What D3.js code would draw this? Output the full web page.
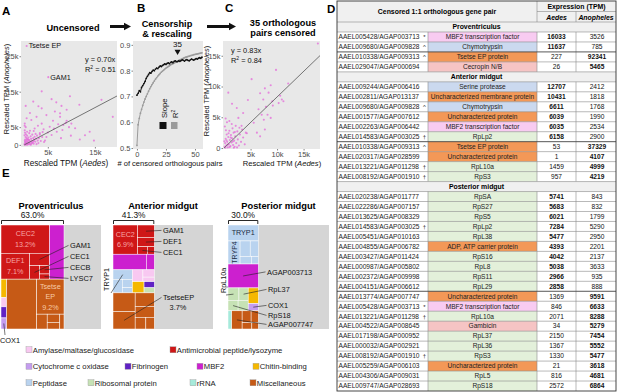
<!DOCTYPE html>
<html>
<head>
<meta charset="utf-8">
<script src="https://cdn.jsdelivr.net/npm/d3@7/dist/d3.min.js"></script>
<style>
  body { margin: 0; background: #fff; }
  svg { font-family: 'Liberation Sans', Arial, sans-serif; display: block; }
</style>
</head>
<body>
<svg id="fig" width="617" height="392"></svg>
<script>
// ---------- data ----------
// A / C: rescaled TPM in thousands, [Aedes, Anopheles]
const pointsA = [
  [0.5, 27.9], [5.1, 19.1],
  [3.7, 15.1], [5.8, 12.9], [1.9, 12.2], [9.7, 13.7], [16.4, 12.7], [11.7, 11.3], [7.9, 11.0],
  [3.7, 10.3], [6.5, 9.4], [9.0, 9.9], [4.7, 8.4], [7.6, 7.9], [2.6, 7.9], [1.5, 7.0], [6.1, 6.8],
  [9.0, 6.8], [10.0, 6.0], [8.3, 5.6], [3.7, 6.0], [5.4, 5.1], [0.5, 7.5], [13.9, 3.7], [12.9, 2.7],
  [11.8, 1.5], [3.3, 3.3], [4.7, 2.2], [6.9, 3.7], [2.2, 4.6], [0.1, 6.0], [18.8, 7.9], [7.6, 8.9],
  [8.8, 6.2], [7.2, 5.8], [9.5, 5.0], [6.3, 4.6], [4.1, 4.4], [5.0, 3.5], [8.1, 4.2], [10.8, 4.7],
  [2.9, 5.4], [1.2, 9.0], [0.3, 11.0], [2.0, 3.9], [5.8, 2.8], [7.8, 1.9], [4.4, 1.2], [9.9, 2.6],
  [14.8, 1.2], [3.0, 10.9], [6.8, 12.0],
  [0.05, 0.1], [0.1, 0.4], [0.15, 0.9], [0.2, 1.5], [0.25, 2.2], [0.3, 0.2], [0.35, 3.0], [0.4, 0.7],
  [0.45, 1.2], [0.5, 1.9], [0.55, 0.05], [0.6, 2.6], [0.65, 0.45], [0.7, 1.0], [0.8, 1.6], [0.85, 0.25],
  [0.9, 2.1], [1.0, 0.6], [1.05, 3.3], [1.1, 1.3], [1.2, 0.15], [1.3, 0.9], [1.35, 2.4], [1.45, 1.7],
  [1.55, 0.4], [1.6, 1.1], [1.7, 2.9], [1.8, 0.7], [1.9, 1.9], [2.0, 0.3], [2.1, 1.4], [2.2, 2.3],
  [2.35, 0.9], [2.5, 1.7], [2.6, 0.2], [2.7, 2.6], [2.85, 1.2], [3.0, 0.5], [3.1, 1.9], [3.3, 2.9],
  [3.5, 1.1], [0.1, 4.1], [0.3, 5.0], [0.6, 3.7], [1.2, 4.0], [0.05, 2.7], [0.2, 0.05], [0.4, 0.3],
  [0.75, 0.1], [0.95, 1.4], [1.15, 0.5], [1.4, 0.05], [1.65, 0.6], [0.12, 1.2], [0.28, 0.6],
  [0.58, 1.55], [0.88, 0.75], [2.0, 1.0], [2.4, 3.1], [3.8, 2.2], [4.2, 0.8], [3.9, 3.6], [0.08, 5.4],
  [0.15, 3.4]
];
const labelsA = ['Tsetse EP', 'GAM1']; // first points of pointsA
const slopeA = 0.70, r2A = 0.51;

const pointsC = [
  [17.7, 17.0], [9.8, 12.7], [8.8, 10.2], [7.7, 9.7], [6.8, 8.9], [8.4, 9.0], [10.6, 8.5], [10.9, 7.9],
  [11.2, 7.6], [10.3, 7.3], [9.1, 7.6], [7.4, 7.9], [7.9, 6.7], [9.2, 6.9], [6.5, 6.3], [7.1, 5.4],
  [8.2, 5.4], [8.8, 4.9], [7.5, 4.6], [7.7, 3.0], [6.8, 1.9], [6.2, 2.5], [2.4, 6.5], [2.7, 4.9],
  [3.6, 5.7], [3.3, 3.6], [4.3, 2.4], [0.8, 9.0], [5.2, 11.2], [4.5, 7.8], [12.1, 10.5], [5.6, 4.1],
  [1.5, 7.2],
  [0.1, 0.2], [0.2, 0.8], [0.3, 1.5], [0.4, 0.4], [0.5, 2.2], [0.6, 1.0], [0.7, 0.1], [0.8, 1.8],
  [0.9, 0.6], [1.0, 2.8], [1.1, 1.3], [1.2, 0.3], [1.3, 2.1], [1.4, 0.9], [1.5, 1.6], [1.6, 3.2],
  [1.7, 0.5], [1.8, 2.5], [1.9, 1.2], [2.0, 0.2], [2.1, 1.9], [2.2, 3.6], [2.3, 0.8], [2.5, 2.7],
  [2.6, 1.4], [2.8, 0.4], [3.0, 2.2], [3.2, 1.0], [3.4, 3.0], [3.6, 1.7], [0.15, 3.5], [0.35, 2.9],
  [0.55, 4.2], [0.05, 1.1], [0.25, 0.05], [0.45, 1.25], [0.65, 0.55], [0.85, 2.4], [1.05, 0.15],
  [1.25, 1.7], [1.45, 3.9], [1.65, 1.05], [1.85, 0.05], [2.05, 2.6], [2.45, 0.1], [2.9, 3.3],
  [3.9, 0.6], [4.1, 2.5], [0.3, 4.8], [1.0, 4.4]
];
const slopeC = 0.83, r2C = 0.84;

// B: fit vs number of censored pairs (index = # pairs)
const slopeB = [0.705, 0.712, 0.722, 0.718, 0.735, 0.742, 0.75, 0.758, 0.77, 0.778, 0.785, 0.792,
  0.79, 0.797, 0.802, 0.80, 0.806, 0.81, 0.808, 0.814, 0.818, 0.816, 0.82, 0.823, 0.826, 0.824,
  0.828, 0.83, 0.827, 0.832, 0.834, 0.831, 0.836, 0.838, 0.835, 0.835, 0.838, 0.836, 0.839, 0.842,
  0.84, 0.837, 0.841, 0.843, 0.84, 0.838, 0.842, 0.845, 0.843, 0.841, 0.844, 0.847, 0.845, 0.848,
  0.85, 0.848, 0.852];
const r2B = [0.51, 0.59, 0.615, 0.635, 0.65, 0.665, 0.678, 0.69, 0.70, 0.71, 0.72, 0.73, 0.738,
  0.746, 0.753, 0.76, 0.767, 0.773, 0.779, 0.784, 0.789, 0.794, 0.798, 0.802, 0.806, 0.81, 0.813,
  0.816, 0.819, 0.822, 0.825, 0.827, 0.83, 0.832, 0.835, 0.837, 0.84, 0.842, 0.844, 0.846, 0.848,
  0.85, 0.852, 0.853, 0.855, 0.856, 0.858, 0.859, 0.86, 0.862, 0.863, 0.864, 0.865, 0.866, 0.867,
  0.868, 0.869];
const cutoffB = 35;

// D: table
const sections = ['Proventriculus', 'Anterior midgut', 'Posterior midgut'];
const sectionSizes = [4, 10, 20];
const pairIds = ['AAEL005428/AGAP003713', 'AAEL009680/AGAP009828', 'AAEL010338/AGAP009313', 'AAEL029047/AGAP000694',
  'AAEL009244/AGAP006416', 'AAEL002811/AGAP013137', 'AAEL009680/AGAP009828', 'AAEL001577/AGAP007612',
  'AAEL002263/AGAP006442', 'AAEL014583/AGAP003025', 'AAEL010338/AGAP009313', 'AAEL020317/AGAP028599',
  'AAEL013221/AGAP011298', 'AAEL008192/AGAP001910',
  'AAEL020238/AGAP011777', 'AAEL022286/AGAP007157', 'AAEL013625/AGAP008329', 'AAEL014583/AGAP003025',
  'AAEL005451/AGAP010163', 'AAEL004855/AGAP006782', 'AAEL003427/AGAP011424', 'AAEL000987/AGAP005802',
  'AAEL002372/AGAP009998', 'AAEL004151/AGAP006612', 'AAEL013774/AGAP007747', 'AAEL005428/AGAP003713',
  'AAEL013221/AGAP011298', 'AAEL004522/AGAP008645', 'AAEL017198/AGAP000952', 'AAEL000032/AGAP002921',
  'AAEL008192/AGAP001910', 'AAEL005259/AGAP006103', 'AAEL004306/AGAP009031', 'AAEL009747/AGAP028693'];
const pairMarks = ['*', '^', '^', '', '', '', '^', '', '', '†', '^', '', '†', '†',
  '', '', '', '†', '', '', '', '', '', '', '', '*', '†', '', '', '', '†', '', '', ''];
const proteins = ['MBF2 transcription factor', 'Chymotrypsin', 'Tsetse EP protein', 'Cecropin N/B',
  'Serine protease', 'Uncharacterized membrane protein', 'Chymotrypsin', 'Uncharacterized protein',
  'MBF2 transcription factor', 'RpLp2', 'Tsetse EP protein', 'Uncharacterized protein', 'RpL10a', 'RpS3',
  'RpSA', 'RpS27', 'RpS5', 'RpLp2', 'RpL38', 'ADP, ATP carrier protein', 'RpS16', 'RpL8', 'RpS11', 'RpL29',
  'Uncharacterized protein', 'MBF2 transcription factor', 'RpL10a', 'Gambicin', 'RpL37', 'RpL36', 'RpS3',
  'Uncharacterized protein', 'RpL5', 'RpS18'];
const proteinCats = ['MBF2', 'Pept', 'Misc', 'AMP', 'Pept', 'Misc', 'Pept', 'Misc', 'MBF2', 'Ribo', 'Misc',
  'Misc', 'Ribo', 'Ribo', 'Ribo', 'Ribo', 'Ribo', 'Ribo', 'Ribo', 'Misc', 'Ribo', 'Ribo', 'Ribo', 'Ribo',
  'Misc', 'MBF2', 'Ribo', 'AMP', 'Ribo', 'Ribo', 'Ribo', 'Misc', 'Ribo', 'Ribo'];
const aedesTPM = [16033, 11637, 227, 26, 12707, 10431, 6611, 6039, 6035, 6158, 53, 1, 1459, 957,
  5741, 5683, 6021, 7284, 5477, 4393, 4042, 5038, 2966, 2858, 1369, 846, 2071, 34, 2150, 1367, 1330, 21, 816, 2572];
const anophelesTPM = [3526, 785, 92341, 5465, 2412, 1818, 1768, 1990, 2534, 2900, 37329, 4107, 4999, 4219,
  843, 832, 1799, 5290, 2950, 2201, 2137, 3633, 935, 888, 9591, 6633, 8288, 5279, 7454, 5552, 5477, 3618, 4681, 6864];

// E: treemaps, % of total TPM per gene
const categories = ['Amylase/maltase/glucosidase', 'Antimicrobial peptide/lysozyme', 'Cytochrome c oxidase',
  'Fibrinogen', 'MBF2', 'Chitin-binding', 'Peptidase', 'Ribosomal protein', 'rRNA', 'Miscellaneous'];
const tissuePct = [63.0, 41.3, 30.0];
const provGenes = [
  ['Antimicrobial peptide/lysozyme', 'CEC2', 13.2], ['Antimicrobial peptide/lysozyme', 'DEF1', 7.1],
  ['Antimicrobial peptide/lysozyme', 'GAM1', 2.4], ['Antimicrobial peptide/lysozyme', 'CEC1', 1.3],
  ['Antimicrobial peptide/lysozyme', 'CECB', 0.8], ['Antimicrobial peptide/lysozyme', 'LYSC7', 0.5],
  ['MBF2', 'AGAP003713', 7.5],
  ['Chitin-binding', '', 1.0], ['Amylase/maltase/glucosidase', '', 0.5], ['Fibrinogen', '', 0.6],
  ['Cytochrome c oxidase', 'COX1', 0.6],
  ['Miscellaneous', '', 14.4], ['Miscellaneous', 'Tsetse EP', 9.2], ['Miscellaneous', '', 1.5],
  ['Miscellaneous', '', 1.0], ['Miscellaneous', '', 0.8], ['Miscellaneous', '', 0.6]
];
const antGenes = [
  ['Antimicrobial peptide/lysozyme', 'CEC2', 6.9], ['Antimicrobial peptide/lysozyme', 'GAM1', 2.0],
  ['Antimicrobial peptide/lysozyme', 'DEF1', 1.5], ['Antimicrobial peptide/lysozyme', 'CEC1', 0.7],
  ['Antimicrobial peptide/lysozyme', '', 0.5],
  ['MBF2', '', 5.0], ['MBF2', '', 1.2],
  ['Peptidase', 'TRYP1', 1.8], ['Peptidase', '', 1.2], ['Peptidase', '', 0.8], ['Peptidase', '', 0.5],
  ['Amylase/maltase/glucosidase', '', 1.2], ['Amylase/maltase/glucosidase', '', 0.8],
  ['Amylase/maltase/glucosidase', '', 0.5],
  ['Chitin-binding', '', 1.25], ['Fibrinogen', '', 0.6], ['Ribosomal protein', '', 0.5],
  ['Miscellaneous', '', 4.0], ['Miscellaneous', 'TsetseEP', 3.7], ['Miscellaneous', '', 2.5],
  ['Miscellaneous', '', 2.0], ['Miscellaneous', '', 1.2], ['Miscellaneous', '', 0.95]
];
const postGenes = [
  ['Peptidase', 'TRYP1', 4.6], ['Peptidase', 'TRYP4', 2.65], ['Peptidase', '', 1.5], ['Peptidase', '', 1.2],
  ['Peptidase', '', 0.8], ['Peptidase', '', 0.5],
  ['MBF2', 'AGAP003713', 6.9],
  ['Ribosomal protein', 'RpL10a', 1.3], ['Ribosomal protein', 'RpL37', 1.1],
  ['Ribosomal protein', 'RpS18', 1.0], ['Ribosomal protein', '', 1.0],
  ['Chitin-binding', '', 1.5], ['Cytochrome c oxidase', 'COX1', 0.7],
  ['rRNA', '', 0.65],
  ['Miscellaneous', 'AGAP007747', 1.8], ['Miscellaneous', '', 1.0], ['Miscellaneous', '', 0.8],
  ['Miscellaneous', '', 0.6], ['Miscellaneous', '', 0.4]
];

// ---------- styles ----------
const svg = d3.select('#fig');
const AX_TXT = '#4d4d4d';
const PANEL_BG = '#e8e8e8';
const PT = '#e46ad9';
const catColor = {
  'Amylase/maltase/glucosidase': '#f8c8f1',
  'Antimicrobial peptide/lysozyme': '#cf1717',
  'Cytochrome c oxidase': '#c49cef',
  'Fibrinogen': '#6022c4',
  'MBF2': '#cc20cf',
  'Chitin-binding': '#f5b800',
  'Peptidase': '#b9d3ef',
  'Ribosomal protein': '#c6e2b5',
  'rRNA': '#a6eadb',
  'Miscellaneous': '#c65a16'
};
const tableFill = { MBF2: '#f8cbf1', Pept: '#cbd9ef', Misc: '#f39857', AMP: '#f6c4c4', Ribo: '#e3f0da' };

function styleAxis(g) {
  g.select('.domain').remove();
  g.attr('font-size', null).attr('font-family', null);
  g.selectAll('.tick line').attr('stroke', '#333').attr('stroke-width', 0.6);
  g.selectAll('.tick text').attr('fill', AX_TXT).style('font-size', '7.5px');
}
const kfmt = (v) => (v === 0 ? '0' : v + 'k');

function letter(t, x, y) {
  svg.append('text').attr('x', x).attr('y', y).text(t)
    .style('font-size', '11.5px').style('font-weight', 'bold');
}
function title(lines, cx, y0) {
  lines.forEach((t, i) => {
    svg.append('text').attr('x', cx).attr('y', y0 + i * 10).attr('text-anchor', 'middle').text(t)
      .style('font-size', '9.2px').style('font-weight', 'bold');
  });
}
function arrow(x0, x1, y) {
  const hl = 7;
  svg.append('path')
    .attr('d', `M${x0},${y - 1.6}H${x1 - hl}V${y - 3.8}L${x1},${y}L${x1 - hl},${y + 3.8}V${y + 1.6}H${x0}Z`)
    .attr('fill', '#111');
}
function axisTitle(g, x, y, rot, species, size) {
  const t = g.append('text').attr('text-anchor', 'middle').style('font-size', size + 'px').attr('fill', '#111')
    .attr('transform', `translate(${x},${y})${rot ? ' rotate(-90)' : ''}`);
  t.append('tspan').text('Rescaled TPM (');
  t.append('tspan').text(species).style('font-style', 'italic');
  t.append('tspan').text(')');
}

function scatter(o) {
  const g = svg.append('g');
  const x = d3.scaleLinear().domain(o.xDomain).range([o.left, o.right]);
  const y = d3.scaleLinear().domain(o.yDomain).range([o.bottom, o.top]);
  g.append('rect').attr('x', o.left).attr('y', o.top)
    .attr('width', o.right - o.left).attr('height', o.bottom - o.top).attr('fill', PANEL_BG);
  g.append('g').attr('transform', `translate(0,${o.bottom})`)
    .call(d3.axisBottom(x).tickValues(o.xTicks).tickFormat(kfmt).tickSize(1.5).tickPadding(1))
    .call(styleAxis);
  g.append('g').attr('transform', `translate(${o.left},0)`)
    .call(d3.axisLeft(y).tickValues(o.yTicks).tickFormat(kfmt).tickSize(1.5).tickPadding(1))
    .call(styleAxis);
  g.append('g').selectAll('circle').data(o.points).join('circle')
    .attr('cx', (d) => x(d[0])).attr('cy', (d) => y(d[1])).attr('r', 1.05)
    .attr('fill', PT).attr('fill-opacity', 0.75);
  const xe = o.xDomain[1];
  g.append('line').attr('x1', x(0)).attr('y1', y(0)).attr('x2', x(xe)).attr('y2', y(o.slope * xe))
    .attr('stroke', '#555').attr('stroke-width', 0.8);
  g.append('text').attr('x', o.eqX).attr('y', o.eqY).text(`y = ${o.slope.toFixed(2)}x`)
    .style('font-size', '7.4px').attr('fill', '#111');
  const r = g.append('text').attr('x', o.eqX).attr('y', o.eqY + 10).style('font-size', '7.4px').attr('fill', '#111');
  r.append('tspan').text('R');
  r.append('tspan').text('2').attr('dy', -3).style('font-size', '5px');
  r.append('tspan').text(` = ${o.r2.toFixed(2)}`).attr('dy', 3);
  (o.labels || []).forEach((lab, i) => {
    const p = o.points[i];
    g.append('text').attr('x', x(p[0]) + 2).attr('y', y(p[1]) + 2.5).text(lab)
      .style('font-size', '7.2px').attr('fill', '#111');
  });
  axisTitle(g, o.xlabX, o.xlabY, false, 'Aedes', o.xlabSize);
  axisTitle(g, o.ylabX, o.ylabY, true, 'Anopheles', 7.4);
}

// ---------- A ----------
letter('A', 2, 15);
title(['Uncensored'], 73, 30.5);
arrow(110, 131, 26.5);
scatter({
  left: 21, right: 117, top: 41, bottom: 147,
  xDomain: [-0.7, 19.7], yDomain: [-0.6, 29.3],
  xTicks: [5, 15], yTicks: [0, 5, 15, 25],
  points: pointsA, labels: labelsA, slope: slopeA, r2: r2A,
  eqX: 85, eqY: 61.5, xlabX: 66, xlabY: 166, xlabSize: 8.2, ylabX: 9, ylabY: 89
});

// ---------- B ----------
letter('B', 137, 12);
title(['Censorship', '& rescaling'], 167, 26.8);
arrow(207, 236, 26.5);
{
  const g = svg.append('g');
  const L = 133, R = 203, T = 41, Bt = 149;
  const x = d3.scaleLinear().domain([-3.4, 56.9]).range([L, R]);
  const y = d3.scaleLinear().domain([0.496, 0.915]).range([Bt, T]);
  g.append('rect').attr('x', L).attr('y', T).attr('width', R - L).attr('height', Bt - T).attr('fill', PANEL_BG);
  g.append('g').attr('transform', `translate(0,${Bt})`)
    .call(d3.axisBottom(x).tickValues([0, 25, 50]).tickSize(1.5).tickPadding(1)).call(styleAxis);
  g.append('g').attr('transform', `translate(${L},0)`)
    .call(d3.axisLeft(y).tickValues([0.5, 0.6, 0.7, 0.8, 0.9]).tickFormat(d3.format('.1f')).tickSize(1.5).tickPadding(1))
    .call(styleAxis);
  const series = [[r2B, '#9b9b9b'], [slopeB, '#111']];
  series.forEach(([vals, col]) => {
    g.append('path').datum(vals)
      .attr('d', d3.line().x((d, i) => x(i)).y((d) => y(d)))
      .attr('fill', 'none').attr('stroke', col).attr('stroke-width', 1);
    g.append('g').selectAll('circle').data(vals).join('circle')
      .attr('cx', (d, i) => x(i)).attr('cy', (d) => y(d)).attr('r', 0.9).attr('fill', col);
  });
  g.append('text').attr('x', x(cutoffB)).attr('y', 46.5).attr('text-anchor', 'middle').text(cutoffB)
    .style('font-size', '8px').attr('fill', '#111');
  g.append('path').attr('d', d3.symbol(d3.symbolTriangle, 16)())
    .attr('transform', `translate(${x(cutoffB)},51.5) rotate(180)`).attr('fill', '#111');
  g.append('text').attr('transform', 'translate(166.5,118) rotate(-90)').text('Slope')
    .style('font-size', '7.6px').attr('fill', '#111');
  const r2t = g.append('text').attr('transform', 'translate(178,118) rotate(-90)')
    .style('font-size', '7.6px').attr('fill', '#111');
  r2t.append('tspan').text('R');
  r2t.append('tspan').text('2').attr('dy', -3).style('font-size', '5px');
  g.append('rect').attr('x', 159.5).attr('y', 122).attr('width', 7).attr('height', 7).attr('fill', '#111');
  g.append('rect').attr('x', 171).attr('y', 122).attr('width', 6.5).attr('height', 7).attr('fill', '#9b9b9b');
  g.append('text').attr('x', 170).attr('y', 166).attr('text-anchor', 'middle')
    .text('# of censored orthologous pairs').style('font-size', '7.5px').attr('fill', '#111');
}

// ---------- C ----------
letter('C', 225, 12);
title(['35 orthologous', 'pairs censored'], 283, 26);
scatter({
  left: 223, right: 320, top: 41, bottom: 149,
  xDomain: [-0.2, 18.1], yDomain: [-0.16, 17.4],
  xTicks: [5, 10, 15], yTicks: [0, 5, 10, 15],
  points: pointsC, slope: slopeC, r2: r2C,
  eqX: 231, eqY: 53, xlabX: 282, xlabY: 166, xlabSize: 7.6, ylabX: 208.5, ylabY: 91
});

// ---------- D: table ----------
letter('D', 327, 13);
{
  const g = svg.append('g');
  const X = { left: 337, idEnd: 421, cat0: 428, cat1: 537, aed1: 576, right: 616 };
  const TOP = 1, HEAD = 22, BOT = 391;
  const rows = [];
  let k = 0;
  sections.forEach((s, si) => {
    rows.push({ type: 'section', name: s });
    for (let j = 0; j < sectionSizes[si]; j++) rows.push({ type: 'pair', i: k++ });
  });
  const y = d3.scaleBand().domain(d3.range(rows.length)).range([HEAD, BOT]);
  const h = y.bandwidth();
  const fs = '6.6px';
  const lineC = '#8a8a8a';

  g.append('rect').attr('x', X.left).attr('y', TOP).attr('width', X.right - X.left).attr('height', HEAD - TOP)
    .attr('fill', '#f0f0f0');
  g.append('text').attr('x', (X.left + X.cat1) / 2).attr('y', (TOP + HEAD) / 2 + 2.3).attr('text-anchor', 'middle')
    .text('Censored 1:1 orthologous gene pair').style('font-size', '6.9px').style('font-weight', 'bold');
  g.append('text').attr('x', (X.cat1 + X.right) / 2).attr('y', 9).attr('text-anchor', 'middle')
    .text('Expression (TPM)').style('font-size', '6.9px').style('font-weight', 'bold');
  [['Aedes', X.cat1, X.aed1], ['Anopheles', X.aed1, X.right]].forEach(([t, a, b]) => {
    g.append('text').attr('x', (a + b) / 2).attr('y', 19.5).attr('text-anchor', 'middle').text(t)
      .style('font-size', '6.9px').style('font-weight', 'bold').style('font-style', 'italic');
  });
  g.append('line').attr('x1', X.cat1).attr('x2', X.right).attr('y1', 11.5).attr('y2', 11.5)
    .attr('stroke', lineC).attr('stroke-width', 0.6);
  g.append('line').attr('x1', X.cat1).attr('x2', X.cat1).attr('y1', TOP).attr('y2', HEAD)
    .attr('stroke', lineC).attr('stroke-width', 0.6);
  g.append('line').attr('x1', X.aed1).attr('x2', X.aed1).attr('y1', 11.5).attr('y2', HEAD)
    .attr('stroke', lineC).attr('stroke-width', 0.6);

  rows.forEach((r, ri) => {
    const y0 = y(ri), cy = y0 + h / 2 + 2.3;
    if (r.type === 'section') {
      g.append('rect').attr('x', X.left).attr('y', y0).attr('width', X.right - X.left).attr('height', h)
        .attr('fill', '#f0f0f0');
      g.append('text').attr('x', (X.left + X.right) / 2).attr('y', cy).attr('text-anchor', 'middle')
        .text(r.name).style('font-size', '6.9px').style('font-weight', 'bold');
    } else {
      const i = r.i;
      g.append('rect').attr('x', X.cat0).attr('y', y0).attr('width', X.cat1 - X.cat0).attr('height', h)
        .attr('fill', tableFill[proteinCats[i]]);
      g.append('text').attr('x', X.left + 1.5).attr('y', cy).text(pairIds[i]).style('font-size', fs).attr('fill', '#222');
      if (pairMarks[i]) {
        g.append('text').attr('x', 424.5).attr('y', cy).attr('text-anchor', 'middle').text(pairMarks[i])
          .style('font-size', '6px').attr('fill', '#222');
      }
      g.append('text').attr('x', (X.cat0 + X.cat1) / 2).attr('y', cy).attr('text-anchor', 'middle')
        .text(proteins[i]).style('font-size', fs).attr('fill', '#222');
      const aBold = aedesTPM[i] > anophelesTPM[i];
      g.append('text').attr('x', (X.cat1 + X.aed1) / 2).attr('y', cy).attr('text-anchor', 'middle')
        .text(aedesTPM[i]).style('font-size', fs).style('font-weight', aBold ? 'bold' : 'normal').attr('fill', '#111');
      g.append('text').attr('x', (X.aed1 + X.right) / 2 + 1).attr('y', cy).attr('text-anchor', 'middle')
        .text(anophelesTPM[i]).style('font-size', fs).style('font-weight', aBold ? 'normal' : 'bold').attr('fill', '#111');
      [X.cat0, X.cat1, X.aed1].forEach((xv) => {
        g.append('line').attr('x1', xv).attr('x2', xv).attr('y1', y0).attr('y2', y0 + h)
          .attr('stroke', lineC).attr('stroke-width', 0.6);
      });
    }
    const prev = rows[ri - 1];
    const switchRow = r.type === 'pair' && prev && prev.type === 'pair' &&
      (aedesTPM[prev.i] > anophelesTPM[prev.i]) !== (aedesTPM[r.i] > anophelesTPM[r.i]);
    g.append('line').attr('x1', X.left).attr('x2', X.right).attr('y1', y0).attr('y2', y0)
      .attr('stroke', switchRow ? '#444' : lineC).attr('stroke-width', switchRow ? 0.9 : 0.6);
  });
  g.append('rect').attr('x', X.left).attr('y', TOP).attr('width', X.right - X.left).attr('height', BOT - TOP)
    .attr('fill', 'none').attr('stroke', '#333').attr('stroke-width', 0.9);
}

// ---------- E: treemaps ----------
letter('E', 2, 177);
const boxes = [
  { x: 1, y: 225, w: 100, h: 104 },
  { x: 113, y: 225, w: 100, h: 104 },
  { x: 228, y: 225, w: 101, h: 104 }
];
const bands = [
  [['Antimicrobial peptide/lysozyme', 'MBF2'],
    ['Chitin-binding', 'Amylase/maltase/glucosidase', 'Fibrinogen', 'Cytochrome c oxidase', 'Miscellaneous']],
  [['Antimicrobial peptide/lysozyme'], ['MBF2'],
    ['Peptidase', 'Amylase/maltase/glucosidase', 'Chitin-binding', 'Fibrinogen', 'Ribosomal protein'],
    ['Miscellaneous']],
  [['Peptidase'], ['MBF2'], ['Ribosomal protein', 'Chitin-binding', 'Cytochrome c oxidase'],
    ['rRNA', 'Miscellaneous']]
];
const innerLabels = [
  { CEC2: { lines: ['CEC2'], pct: true, col: '#f7a6a6' }, DEF1: { lines: ['DEF1'], pct: true, col: '#f7a6a6' },
    'Tsetse EP': { lines: ['Tsetse', 'EP'], pct: true, col: '#f8cba8' } },
  { CEC2: { lines: ['CEC2'], pct: true, col: '#f7a6a6' } },
  { TRYP1: { lines: ['TRYP1'], pct: false, col: '#1c2b44' }, TRYP4: { lines: ['TRYP4'], pct: false, col: '#1c2b44', rot: true } }
];
const callouts = [
  [{ g: 'GAM1', tx: 70, ty: 248 }, { g: 'CEC1', tx: 70, ty: 259 }, { g: 'CECB', tx: 70, ty: 270 },
    { g: 'LYSC7', tx: 70, ty: 281 }, { g: 'COX1', tx: 0, ty: 343, lx: 5, ly: 335 }],
  [{ g: 'GAM1', tx: 163, ty: 233 }, { g: 'DEF1', tx: 163, ty: 244 }, { g: 'CEC1', tx: 163, ty: 255 },
    { g: 'TsetseEP', tx: 163, ty: 300, extra: true }, { g: 'TRYP1', tx: 109, ty: 291, rot: true, lx: 111, ly: 293 }],
  [{ g: 'RpL10a', tx: 226, ty: 293, rot: true, lx: 226, ly: 295 }, { g: 'AGAP003713', tx: 267, ty: 274.5 },
    { g: 'RpL37', tx: 268, ty: 292 }, { g: 'COX1', tx: 268, ty: 308 }, { g: 'RpS18', tx: 268, ty: 318 },
    { g: 'AGAP007747', tx: 268, ty: 327 }]
];
const titlesE = ['Proventriculus', 'Anterior midgut', 'Posterior midgut'];
const squarify = d3.treemapSquarify.ratio(1);
[provGenes, antGenes, postGenes].forEach((genes, ti) => {
  const box = boxes[ti];
  const pct = tissuePct[ti];
  const cw = box.w * pct / 100;
  const root = d3.hierarchy({
    children: bands[ti].map((b) => ({
      children: b.map((cat) => ({
        cat,
        children: genes.filter((d) => d[0] === cat).map((d) => ({ cat: d[0], label: d[1], value: d[2] }))
      }))
    }))
  }).sum((d) => d.value);
  const tile = (node, x0, y0, x1, y1) =>
    node.depth === 0 ? d3.treemapSlice(node, x0, y0, x1, y1) : squarify(node, x0, y0, x1, y1);
  d3.treemap().tile(tile).size([cw, box.h])(root);

  const g = svg.append('g').attr('transform', `translate(${box.x},${box.y})`);
  g.append('rect').attr('width', box.w).attr('height', box.h).attr('fill', '#d5d5d5');
  const leaves = root.leaves();
  g.selectAll('rect.leaf').data(leaves).join('rect').attr('class', 'leaf')
    .attr('x', (d) => d.x0).attr('y', (d) => d.y0)
    .attr('width', (d) => d.x1 - d.x0).attr('height', (d) => d.y1 - d.y0)
    .attr('fill', (d) => catColor[d.data.cat]).attr('stroke', '#fff').attr('stroke-width', 0.5);

  // inner labels
  leaves.forEach((d) => {
    const lab = innerLabels[ti][d.data.label];
    if (!lab) return;
    const lines = lab.lines.concat(lab.pct ? [d.value.toFixed(1) + '%'] : []);
    const cx = box.x + (d.x0 + d.x1) / 2, cy = box.y + (d.y0 + d.y1) / 2;
    if (lab.rot) {
      svg.append('text').attr('transform', `translate(${cx + 2.5},${cy}) rotate(-90)`).attr('text-anchor', 'middle')
        .text(lines[0]).style('font-size', '7px').attr('fill', lab.col);
      return;
    }
    lines.forEach((t, i) => {
      svg.append('text').attr('x', cx).attr('y', cy + (i - (lines.length - 1) / 2) * 10.5 + 2.5)
        .attr('text-anchor', 'middle').text(t).style('font-size', '7.2px').attr('fill', lab.col);
    });
  });

  // callouts
  callouts[ti].forEach((c) => {
    const d = leaves.find((l) => l.data.label === c.g);
    if (!d) return;
    const cx = box.x + (d.x0 + d.x1) / 2, cy = box.y + (d.y0 + d.y1) / 2;
    const lx = c.lx !== undefined ? c.lx : c.tx - 1.5;
    const ly = c.ly !== undefined ? c.ly : c.ty - 2.6;
    svg.append('line').attr('x1', cx).attr('y1', cy).attr('x2', lx).attr('y2', ly)
      .attr('stroke', '#222').attr('stroke-width', 0.6);
    if (c.rot) {
      svg.append('text').attr('transform', `translate(${c.tx},${c.ty}) rotate(-90)`).text(c.g)
        .style('font-size', '7.2px').attr('fill', '#111');
    } else {
      svg.append('text').attr('x', c.tx).attr('y', c.ty).text(c.g).style('font-size', '7.4px').attr('fill', '#111');
      if (c.extra) {
        svg.append('text').attr('x', c.tx + 15).attr('y', c.ty + 10).attr('text-anchor', 'middle')
          .text(d.value.toFixed(1) + '%').style('font-size', '7.4px').attr('fill', '#111');
      }
    }
  });

  // title, percentage and bracket
  svg.append('text').attr('x', box.x + box.w / 2).attr('y', 208.5).attr('text-anchor', 'middle')
    .text(titlesE[ti]).style('font-size', '9.3px').style('font-weight', 'bold');
  svg.append('text').attr('x', box.x + cw / 2).attr('y', 218).attr('text-anchor', 'middle')
    .text(pct.toFixed(1) + '%').style('font-size', '8.4px').attr('fill', '#111');
  svg.append('path').attr('d', `M${box.x + 0.5},${box.y - 1}V${box.y - 4.5}H${box.x + cw - 0.5}V${box.y - 1}`)
    .attr('fill', 'none').attr('stroke', '#111').attr('stroke-width', 0.9);
});

// legend
const legendRows = [
  ['Amylase/maltase/glucosidase', 'Antimicrobial peptide/lysozyme'],
  ['Cytochrome c oxidase', 'Fibrinogen', 'MBF2', 'Chitin-binding'],
  ['Peptidase', 'Ribosomal protein', 'rRNA', 'Miscellaneous']
];
const legendX = [[26, 170], [26, 125, 197, 253], [26, 88, 190, 250]];
const legendY = [350, 366.5, 383];
legendRows.forEach((row, ri) => {
  row.forEach((cat, ci) => {
    const x0 = legendX[ri][ci], y0 = legendY[ri];
    svg.append('rect').attr('x', x0).attr('y', y0 - 3.2).attr('width', 6).attr('height', 6)
      .attr('fill', catColor[cat]).attr('stroke', '#999').attr('stroke-width', 0.4);
    svg.append('text').attr('x', x0 + 6.8).attr('y', y0 + 2.6).text(cat)
      .style('font-size', '7.7px').attr('fill', '#222');
  });
});
</script>
</body>
</html>
